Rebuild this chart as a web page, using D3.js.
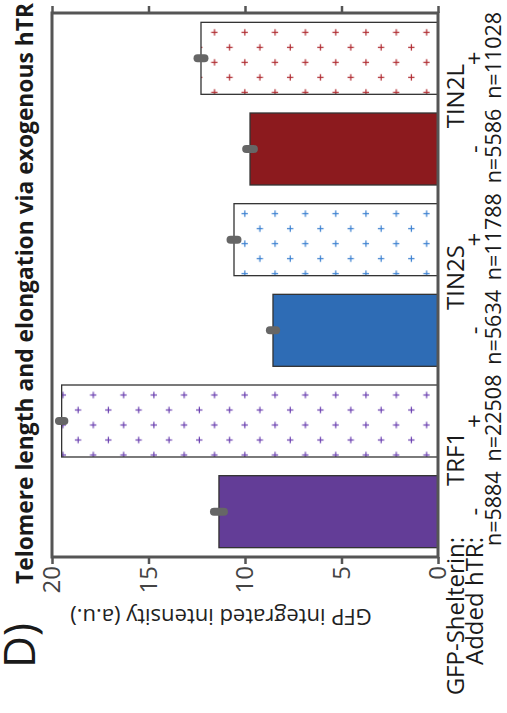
<!DOCTYPE html>
<html>
<head>
<meta charset="utf-8">
<script src="https://cdn.jsdelivr.net/npm/d3@7"></script>
<style>
  body { margin: 0; background: #fff; }
  svg { display: block; font-family: "Open Sans", sans-serif; }
</style>
</head>
<body>
<svg></svg>
<script>
// chart data
var shelterins = ["TRF1", "TIN2S", "TIN2L"];
var addedHTR = ["-", "+", "-", "+", "-", "+"];
var intensity = [11.35, 19.5, 8.55, 10.57, 9.74, 12.28];
var errors = [0.26, 0.14, 0.16, 0.18, 0.2, 0.18];
var counts = ["n=5884", "n=22508", "n=5634", "n=11788", "n=5586", "n=11028"];
var yTicks = [0, 5, 10, 15, 20];

var solidColors = ["#633d97", "#2e6cb5", "#8c1a1e"];
var plusColors = ["#6a3fb0", "#3a7fd0", "#b02a30"];

// the figure is drawn as a normal bar chart, then turned 90deg to the left
var W = 713, H = 507;

var svg = d3.select("svg").attr("width", H).attr("height", W);
var defs = svg.append("defs");
var g = svg.append("g").attr("transform", "translate(0," + W + ") rotate(-90)");

var bars = intensity.map(function(v, i) {
  return { id: i, group: Math.floor(i / 2), htr: addedHTR[i], value: v, err: errors[i], n: counts[i] };
});

var x = d3
  .scaleBand()
  .domain(bars.map(function(d) { return d.id; }))
  .range([156, 700])
  .paddingInner(0.206)
  .paddingOuter(0.103);

var y = d3.scaleLinear().domain([0, 20]).range([438, 52]);
var bw = x.bandwidth();

// plus-sign patterns for the bars with exogenous hTR
bars.filter(function(d) { return d.htr == "+"; }).forEach(function(d) {
  var p = defs
    .append("pattern")
    .attr("id", "plus-" + d.id)
    .attr("patternUnits", "userSpaceOnUse")
    .attr("width", 30)
    .attr("height", 30.3)
    .attr("x", x(d.id) + bw - 10 - 7.5)
    .attr("y", y(0) - 11.5 - 7.6);
  p.append("rect").attr("width", 30).attr("height", 30.3).attr("fill", "#fff");
  [[7.5, 7.6], [22.5, 22.75]].forEach(function(c) {
    p.append("path")
      .attr("d", "M" + (c[0] - 3.2) + "," + c[1] + "h6.4M" + c[0] + "," + (c[1] - 3.2) + "v6.4")
      .attr("stroke", plusColors[d.group])
      .attr("stroke-width", 1.2)
      .attr("fill", "none");
  });
});

g.selectAll(".bar")
  .data(bars)
  .enter()
  .append("rect")
  .attr("class", "bar")
  .attr("x", function(d) { return x(d.id); })
  .attr("width", bw)
  .attr("y", function(d) { return y(d.value); })
  .attr("height", function(d) { return y(0) - y(d.value); })
  .attr("fill", function(d) {
    return d.htr == "+" ? "url(#plus-" + d.id + ")" : solidColors[d.group];
  })
  .attr("stroke", "#333")
  .attr("stroke-width", 1.3);

// error bars
g.selectAll(".err")
  .data(bars)
  .enter()
  .append("line")
  .attr("class", "err")
  .attr("x1", function(d) { return x(d.id) + bw / 2; })
  .attr("x2", function(d) { return x(d.id) + bw / 2; })
  .attr("y1", function(d) { return y(d.value - d.err); })
  .attr("y2", function(d) { return y(d.value + d.err); })
  .attr("stroke", "#666")
  .attr("stroke-width", 8)
  .attr("stroke-linecap", "round");

// axes
var yAxis = d3.axisLeft(y).tickValues(yTicks).tickSize(7).tickPadding(2);
var ax = g.append("g").attr("transform", "translate(156,0)").call(yAxis);
ax.select(".domain").remove();
ax.selectAll("line").attr("stroke", "#555").attr("stroke-width", 2.5);
ax.selectAll("text")
  .attr("font-size", 24)
  .attr("font-family", "Open Sans")
  .attr("fill", "#444");

var ax2 = g
  .append("g")
  .attr("transform", "translate(700,0)")
  .call(d3.axisRight(y).tickValues(yTicks).tickSize(7).tickFormat(""));
ax2.select(".domain").remove();
ax2.selectAll("line").attr("stroke", "#555").attr("stroke-width", 2.5);

g.append("rect")
  .attr("x", 156)
  .attr("y", 52)
  .attr("width", 544)
  .attr("height", 386)
  .attr("fill", "none")
  .attr("stroke", "#555")
  .attr("stroke-width", 3);

// labels under the bars
var lab = g.append("g").attr("font-size", 24).attr("fill", "#1a1a1a");

lab.selectAll(".grp")
  .data(shelterins)
  .enter()
  .append("text")
  .attr("x", function(d, i) { return x(2 * i) + (x(2 * i + 1) + bw - x(2 * i)) / 2 + 7.5; })
  .attr("y", 464)
  .attr("text-anchor", "middle")
  .text(function(d) { return d; });

lab.selectAll(".htr")
  .data(bars)
  .enter()
  .append("text")
  .attr("x", function(d) { return x(d.id) + bw / 2; })
  .attr("y", 483)
  .attr("text-anchor", "middle")
  .text(function(d) { return d.htr; });

lab.selectAll(".cnt")
  .data(bars)
  .enter()
  .append("text")
  .attr("x", function(d) { return x(d.id) + bw / 2 + 3; })
  .attr("y", 501)
  .attr("font-size", 21.5)
  .attr("text-anchor", "middle")
  .text(function(d) { return d.n; });

lab.append("text").attr("x", 176).attr("y", 464).attr("text-anchor", "end").text("GFP-Shelterin:");
lab.append("text").attr("x", 176).attr("y", 483).attr("text-anchor", "end").text("Added hTR:");

// axis title
g.append("text")
  .attr("transform", "translate(104,221) rotate(-90)")
  .attr("text-anchor", "middle")
  .attr("font-size", 22)
  .attr("fill", "#222")
  .text("GFP integrated intensity (a.u.)");

// chart title
g.append("text")
  .attr("x", 419.5)
  .attr("y", 33)
  .attr("text-anchor", "middle")
  .attr("font-size", 22.8)
  .attr("font-weight", "bold")
  .attr("fill", "#1a1a1a")
  .text("Telomere length and elongation via exogenous hTR");

// panel letter
g.append("text")
  .attr("x", 45)
  .attr("y", 35)
  .attr("font-size", 44)
  .attr("fill", "#1a1a1a")
  .text("D)");
</script>
</body>
</html>
